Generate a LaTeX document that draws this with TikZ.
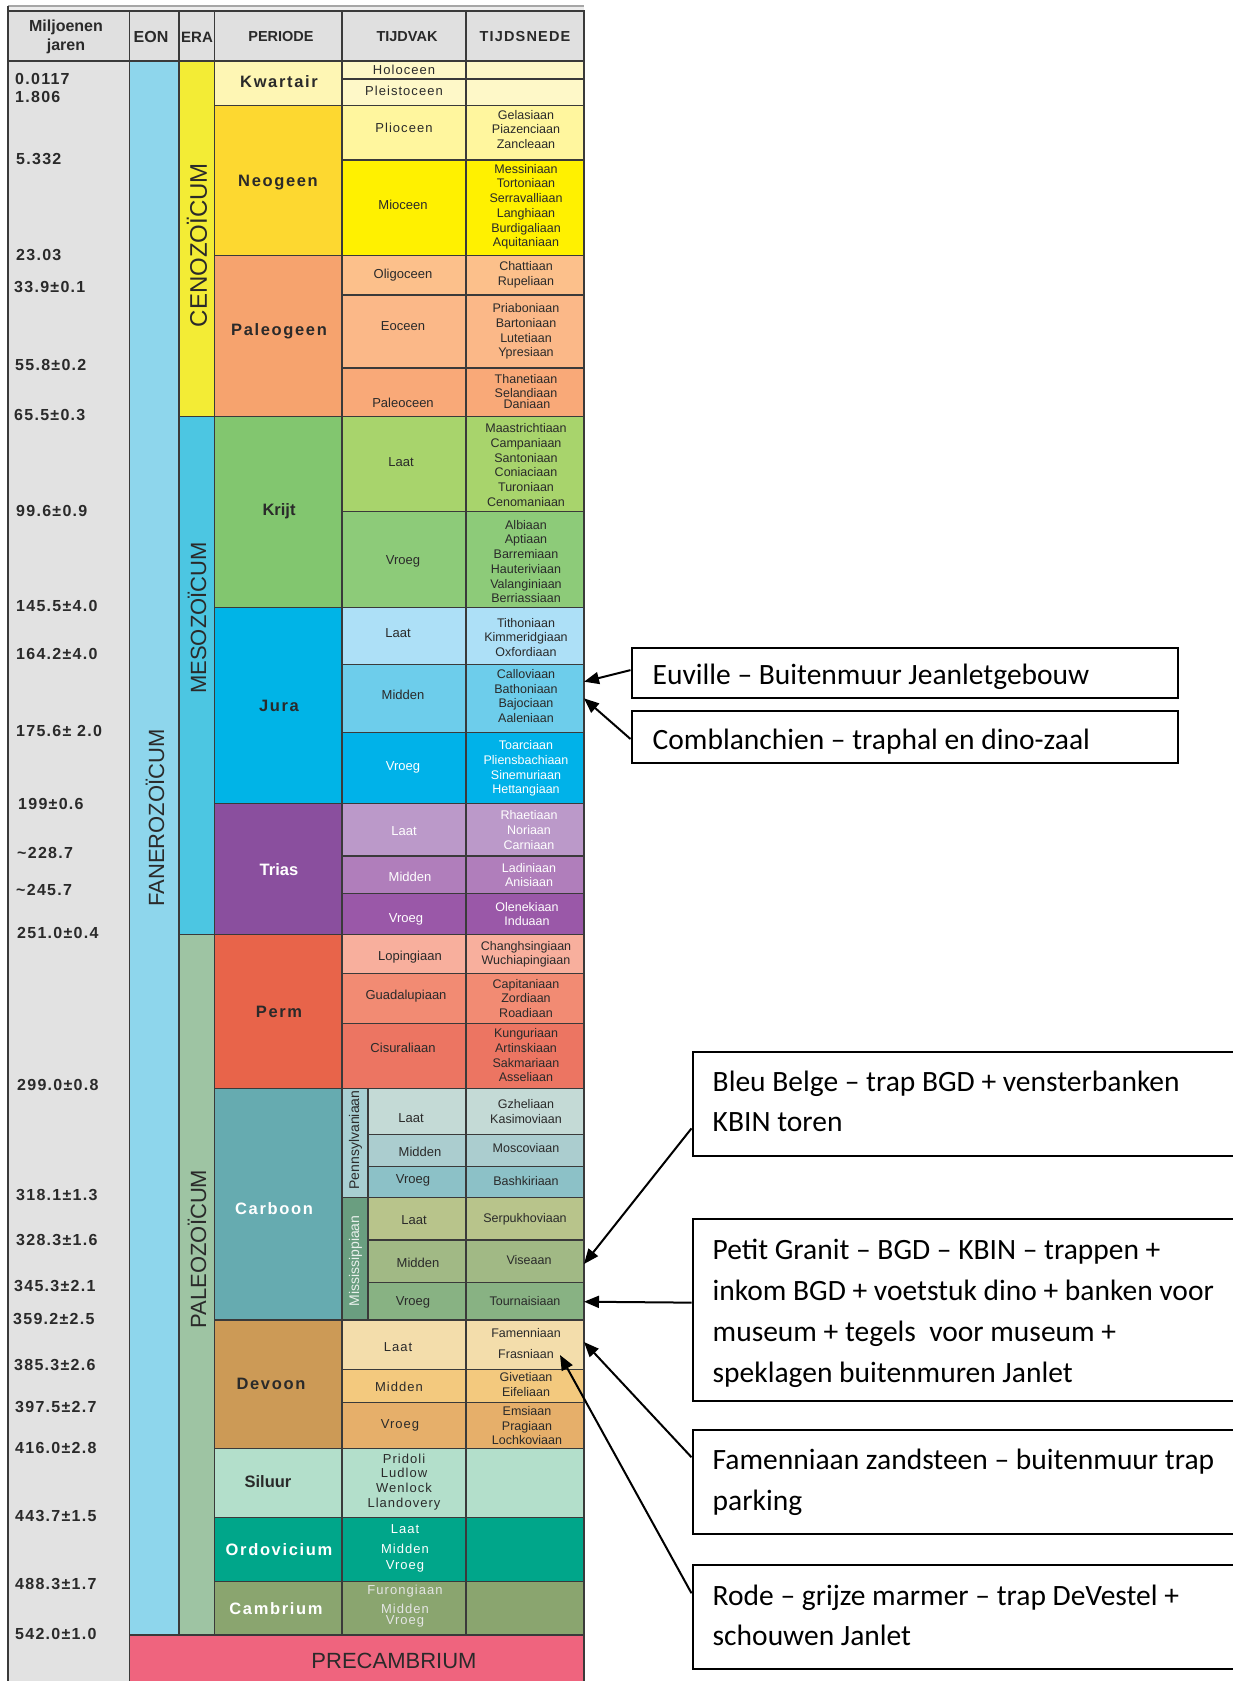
\documentclass[tikz,border=0pt]{standalone}
\usepackage{fontspec}
\setmainfont{Liberation Sans}
\newfontfamily\annf{Carlito}
\newfontfamily\lsp[LetterSpace=10]{Liberation Sans}
\newfontfamily\lsa[LetterSpace=8]{Liberation Sans}
\newfontfamily\lsv[LetterSpace=8]{Liberation Sans}
\usetikzlibrary{arrows.meta,calc}
\definecolor{linec}{HTML}{3A3A3A}
\definecolor{txt}{HTML}{2A2A2A}
\definecolor{hdr}{HTML}{E0E0E0}
\definecolor{agec}{HTML}{E2E2E2}
\definecolor{eonc}{HTML}{8ED6EC}
\definecolor{cenc}{HTML}{F3EC35}
\definecolor{mesc}{HTML}{4CC6E2}
\definecolor{palc}{HTML}{9EC4A3}
\definecolor{prec}{HTML}{EF647E}
\definecolor{kwa}{HTML}{FEF6B4}
\definecolor{kwb}{HTML}{FEF8C8}
\definecolor{neo}{HTML}{FDD830}
\definecolor{pli}{HTML}{FFF69E}
\definecolor{mio}{HTML}{FFF100}
\definecolor{pgn}{HTML}{F6A36E}
\definecolor{oli}{HTML}{FCC08B}
\definecolor{eoc}{HTML}{FBB888}
\definecolor{pal}{HTML}{F9A978}
\definecolor{kri}{HTML}{82C66F}
\definecolor{kril}{HTML}{A8D46C}
\definecolor{kriv}{HTML}{8DCB79}
\definecolor{jur}{HTML}{00B4E7}
\definecolor{jurl}{HTML}{ADE0F7}
\definecolor{jurm}{HTML}{6DCDEB}
\definecolor{jurv}{HTML}{00B2E9}
\definecolor{tri}{HTML}{8A4F9E}
\definecolor{tril}{HTML}{BB99C9}
\definecolor{trim}{HTML}{B07EBB}
\definecolor{triv}{HTML}{9A58A8}
\definecolor{per}{HTML}{E8644A}
\definecolor{perl}{HTML}{F8AF9D}
\definecolor{perg}{HTML}{F28B73}
\definecolor{perc}{HTML}{EC7562}
\definecolor{car}{HTML}{66ABB0}
\definecolor{pen}{HTML}{A8CFD2}
\definecolor{penl}{HTML}{C4DAD6}
\definecolor{penm}{HTML}{ABCDCF}
\definecolor{penv}{HTML}{8CC1C7}
\definecolor{mis}{HTML}{6A9E80}
\definecolor{misl}{HTML}{B8C48B}
\definecolor{mism}{HTML}{A1B985}
\definecolor{misv}{HTML}{88B283}
\definecolor{dev}{HTML}{CC9A56}
\definecolor{devl}{HTML}{F3DDAB}
\definecolor{devm}{HTML}{F3C97E}
\definecolor{devv}{HTML}{E6AF6A}
\definecolor{sil}{HTML}{B3DFCB}
\definecolor{ord}{HTML}{00A68A}
\definecolor{cam}{HTML}{8AA56F}
\newcommand\cel[5]{\filldraw[grid,fill=#5] (#1,#2) rectangle (#3,#4);}
\begin{document}
\begin{tikzpicture}[x=1pt,y=-1pt,
  grid/.style={draw=linec,line width=1.4pt},
  age/.style={font=\lsa\bfseries\fontsize{16}{18}\selectfont,anchor=west,inner sep=0,text=txt},
  hd/.style={font=\bfseries\fontsize{16}{18}\selectfont,text=txt,align=center,inner sep=0},
  hds/.style={font=\lsv\bfseries\fontsize{14.5}{16}\selectfont,text=txt,align=center,inner sep=0},
  pers/.style={font=\lsp\bfseries\fontsize{16.5}{18}\selectfont,text=txt,inner sep=0},
  pern/.style={font=\bfseries\fontsize{16.5}{18}\selectfont,text=txt,inner sep=0},
  tv/.style={font=\fontsize{13}{14.7}\selectfont,text=txt,align=center,inner sep=0},
  tvs/.style={font=\lsv\fontsize{13}{14.7}\selectfont,text=txt,align=center,inner sep=0},
  ts/.style={font=\fontsize{12.5}{14.7}\selectfont,text=txt,align=center,inner sep=0},
  era/.style={rotate=90,font=\fontsize{22}{24}\selectfont,text=txt,inner sep=0},
  sub/.style={rotate=90,font=\fontsize{14}{15}\selectfont,text=txt,inner sep=0},
  abox/.style={draw=black,line width=2pt,anchor=north west,inner sep=0},
  atext/.style={font=\annf\fontsize{29.5}{40}\selectfont,anchor=base west,inner sep=0,text=black},
  arr/.style={-{Triangle[length=15pt,width=12pt]},line width=2pt,draw=black}]
\useasboundingbox (0,0) rectangle (1233,1681);
\fill[white] (0,0) rectangle (1233,1681);
% ---------- top strip and header ----------
\fill[hdr!60] (8,6) rectangle (584,11);
\draw[draw=gray!70,line width=1.8pt] (8,6) -- (584,6);
\cel{8}{11}{129.5}{61}{hdr}
\cel{129.5}{11}{179}{61}{hdr}
\cel{179}{11}{214.5}{61}{hdr}
\cel{214.5}{11}{342}{61}{hdr}
\cel{342}{11}{466}{61}{hdr}
\cel{466}{11}{584}{61}{hdr}
\node[hd,font=\bfseries\fontsize{16}{18.5}\selectfont] (h1) at (66,37) {Miljoenen\\jaren};
\node[hd] (h2) at (151,37) {EON};
\node[hd,font=\bfseries\fontsize{15}{16}\selectfont] (h3) at (197,37) {ERA};
\node[hd,font=\bfseries\fontsize{14.5}{16}\selectfont] (h4) at (281,37) {PERIODE};
\node[hd,font=\bfseries\fontsize{14.5}{16}\selectfont] (h5) at (407,37) {TIJDVAK};
\node[hds] (h6) at (525,37) {TIJDSNEDE};
% ---------- age column ----------
\fill[agec] (8,61) rectangle (129.5,1681);
\draw[grid] (8,6) -- (8,1681);
\draw[grid] (8,61) -- (129.5,61);
% ---------- eon / era ----------
\cel{129.5}{61}{179}{1635}{eonc}
\cel{179}{61}{214.5}{416.7}{cenc}
\cel{179}{416.7}{214.5}{934.3}{mesc}
\cel{179}{934.3}{214.5}{1635}{palc}
\cel{129.5}{1635}{584}{1685}{prec}
\draw[grid] (129.5,61) -- (129.5,1681);
% ---------- periods ----------
\cel{214.5}{61}{342}{105.7}{kwa}
\cel{214.5}{105.7}{342}{255.7}{neo}
\cel{214.5}{255.7}{342}{416.7}{pgn}
\cel{214.5}{416.7}{342}{607.3}{kri}
\cel{214.5}{607.3}{342}{803.3}{jur}
\cel{214.5}{803.3}{342}{934.3}{tri}
\cel{214.5}{934.3}{342}{1088.3}{per}
\cel{214.5}{1088.3}{342}{1320}{car}
\cel{214.5}{1320}{342}{1448.5}{dev}
\cel{214.5}{1448.5}{342}{1517.7}{sil}
\cel{214.5}{1517.7}{342}{1581.7}{ord}
\cel{214.5}{1581.7}{342}{1635}{cam}
% ---------- tijdvak + tijdsnede rows ----------
\foreach \ya/\yb/\cc in {61/79/kwb,79/105.7/kwb,105.7/160/pli,160/255.7/mio,
  255.7/295/oli,295/368/eoc,368/416.7/pal,416.7/511.7/kril,511.7/607.3/kriv,
  607.3/664.3/jurl,664.3/732.3/jurm,732.3/803.3/jurv,803.3/856/tril,856/893.3/trim,
  893.3/934.3/triv,934.3/973.3/perl,973.3/1023.3/perg,1023.3/1088.3/perc,
  1320/1369.3/devl,1369.3/1402.7/devm,1402.7/1448.5/devv,1448.5/1517.7/sil,
  1517.7/1581.7/ord,1581.7/1635/cam}{
  \cel{342}{\ya}{466}{\yb}{\cc}
  \cel{466}{\ya}{584}{\yb}{\cc}
}
\cel{342}{1088.3}{368}{1197.7}{pen}
\cel{342}{1197.7}{368}{1320}{mis}
\foreach \ya/\yb/\cc in {1088.3/1134.3/penl,1134.3/1166.7/penm,1166.7/1197.7/penv,
  1197.7/1240/misl,1240/1282.3/mism,1282.3/1320/misv}{
  \cel{368}{\ya}{466}{\yb}{\cc}
  \cel{466}{\ya}{584}{\yb}{\cc}
}
% ---------- ages ----------
\node[age] (a1) at (15,79.3) {0.0117};
\node[age] (a2) at (15,97.3) {1.806};
\node[age] (a3) at (16,159.3) {5.332};
\node[age] (a4) at (16,255) {23.03};
\node[age] (a5) at (14,286.7) {33.9±0.1};
\node[age] (a6) at (15,365) {55.8±0.2};
\node[age] (a7) at (14,415) {65.5±0.3};
\node[age] (a8) at (16,511) {99.6±0.9};
\node[age] (a9) at (16,606) {145.5±4.0};
\node[age] (a10) at (16,654.3) {164.2±4.0};
\node[age] (a11) at (16,731) {175.6± 2.0};
\node[age] (a12) at (18,804.3) {199±0.6};
\node[age] (a13) at (17,853.3) {\textasciitilde228.7};
\node[age] (a14) at (16,890) {\textasciitilde245.7};
\node[age] (a15) at (17,932.7) {251.0±0.4};
\node[age] (a16) at (17,1085) {299.0±0.8};
\node[age] (a17) at (16,1195) {318.1±1.3};
\node[age] (a18) at (16,1240) {328.3±1.6};
\node[age] (a19) at (14,1285.7) {345.3±2.1};
\node[age] (a20) at (13,1319) {359.2±2.5};
\node[age] (a21) at (14,1365) {385.3±2.6};
\node[age] (a22) at (15,1406.7) {397.5±2.7};
\node[age] (a23) at (15,1448.3) {416.0±2.8};
\node[age] (a24) at (15,1516) {443.7±1.5};
\node[age] (a25) at (15,1584.3) {488.3±1.7};
\node[age] (a26) at (15,1634.3) {542.0±1.0};
% ---------- eon / era labels ----------
\node[era] (e0) at (155,818) {FANEROZOÏCUM};
\node[era,font=\fontsize{24}{26}\selectfont] (e1) at (197,245) {CENOZOÏCUM};
\node[era] (e2) at (197,618) {MESOZOÏCUM};
\node[era] (e3) at (197,1249) {PALEOZOÏCUM};
\node[font=\fontsize{22}{24}\selectfont,text=txt,inner sep=0] (e4) at (394,1661) {PRECAMBRIUM};
% ---------- period labels ----------
\node[pers] (p1) at (279,81.7) {Kwartair};
\node[pers] (p2) at (278,182.7) {Neogeen};
\node[pers] (p3) at (279,331) {Paleogeen};
\node[pern] (p4) at (279,511) {Krijt};
\node[pers] (p5) at (279,706) {Jura};
\node[pern,text=white] (p6) at (279,869.3) {Trias};
\node[pers] (p7) at (279,1012.3) {Perm};
\node[pers,text=white] (p8) at (274,1208.3) {Carboon};
\node[pers] (p9) at (271,1384.3) {Devoon};
\node[pern] (p10) at (268,1481.7) {Siluur};
\node[pers,text=white] (p11) at (279,1549.3) {Ordovicium};
\node[pers,text=white] (p12) at (276,1608.3) {Cambrium};
% ---------- tijdvak ----------
\node[tvs] (v1) at (404,70) {Holoceen};
\node[tvs] (v2) at (404,90.5) {Pleistoceen};
\node[tvs] (v3) at (404,128.3) {Plioceen};
\node[tv] (v4) at (403,205) {Mioceen};
\node[tv] (v5) at (403,275) {Oligoceen};
\node[tv] (v6) at (403,326) {Eoceen};
\node[tv] (v7) at (403,403.3) {Paleoceen};
\node[tv] (v8) at (401,461.7) {Laat};
\node[tv] (v9) at (403,561) {Vroeg};
\node[tv] (v10) at (398,633.3) {Laat};
\node[tv] (v11) at (403,695) {Midden};
\node[tv,text=white] (v12) at (403,767.7) {Vroeg};
\node[tv,text=white] (v13) at (404,830.7) {Laat};
\node[tv,text=white] (v14) at (410,876.7) {Midden};
\node[tv,text=white] (v15) at (406,919.3) {Vroeg};
\node[tv] (v16) at (410,956.7) {Lopingiaan};
\node[tv] (v17) at (406,996) {Guadalupiaan};
\node[tv] (v18) at (403,1048.3) {Cisuraliaan};
\node[tv] (v19) at (411,1117.7) {Laat};
\node[tv] (v20) at (420,1151.7) {Midden};
\node[tv] (v21) at (413,1180) {Vroeg};
\node[tv] (v22) at (414,1220) {Laat};
\node[tv] (v23) at (418,1262.7) {Midden};
\node[tv] (v24) at (413,1302.7) {Vroeg};
\node[tvs] (v25) at (398,1347.3) {Laat};
\node[tvs] (v26) at (399,1386.7) {Midden};
\node[tvs] (v27) at (400,1425.7) {Vroeg};
\node[tvs] (v28) at (404,1481.7) {Pridoli\\Ludlow\\Wenlock\\Llandovery};
\node[tvs,text=white] (v29) at (405,1529.3) {Laat};
\node[tvs,text=white] (v30) at (405,1548.7) {Midden};
\node[tvs,text=white] (v31) at (405,1566.7) {Vroeg};
\node[tvs,text=white!90!black] (v32) at (405,1591) {Furongiaan};
\node[tvs,text=white!90!black] (v33) at (405,1609.3) {Midden};
\node[tvs,text=white!90!black] (v34) at (405,1621.7) {Vroeg};
\node[sub] (v35) at (355.5,1140) {Pennsylvaniaan};
\node[sub,text=white!85!mis] (v36) at (355.5,1261) {Mississippiaan};
% ---------- tijdsnede ----------
\node[ts] (s1) at (526,129.5) {Gelasiaan\\Piazenciaan\\Zancleaan};
\node[ts] (s2) at (526,206.8) {Messiniaan\\Tortoniaan\\Serravalliaan\\Langhiaan\\Burdigaliaan\\Aquitaniaan};
\node[ts] (s3) at (526,274.8) {Chattiaan\\Rupeliaan};
\node[ts] (s4) at (526,331.5) {Priaboniaan\\Bartoniaan\\Lutetiaan\\Ypresiaan};
\node[ts] (s5) at (526,379) {Thanetiaan};
\node[ts] (s6) at (526,393) {Selandiaan};
\node[ts] (s7) at (527,404.5) {Daniaan};
\node[ts] (s8) at (526,465) {Maastrichtiaan\\Campaniaan\\Santoniaan\\Coniaciaan\\Turoniaan\\Cenomaniaan};
\node[ts] (s9) at (526,561.5) {Albiaan\\Aptiaan\\Barremiaan\\Hauteriviaan\\Valanginiaan\\Berriassiaan};
\node[ts] (s10) at (526,637.5) {Tithoniaan\\Kimmeridgiaan\\Oxfordiaan};
\node[ts] (s11) at (526,696) {Calloviaan\\Bathoniaan\\Bajociaan\\Aaleniaan};
\node[ts,text=white] (s12) at (526,768.7) {Toarciaan\\Pliensbachiaan\\Sinemuriaan\\Hettangiaan};
\node[ts,text=white] (s13) at (529,830) {Rhaetiaan\\Noriaan\\Carniaan};
\node[ts,text=white] (s14) at (529,875) {Ladiniaan\\Anisiaan};
\node[ts,text=white] (s15) at (527,914) {Olenekiaan\\Induaan};
\node[ts] (s16) at (526,954.3) {Changhsingiaan\\Wuchiapingiaan};
\node[ts] (s17) at (526,998.3) {Capitaniaan\\Zordiaan\\Roadiaan};
\node[ts] (s18) at (526,1055.3) {Kunguriaan\\Artinskiaan\\Sakmariaan\\Asseliaan};
\node[ts] (s19) at (526,1111.8) {Gzheliaan\\Kasimoviaan};
\node[ts] (s20) at (526,1148.3) {Moscoviaan};
\node[ts] (s21) at (526,1180.7) {Bashkiriaan};
\node[ts] (s22) at (525,1219.3) {Serpukhoviaan};
\node[ts] (s23) at (529,1260) {Viseaan};
\node[ts] (s24) at (525,1301) {Tournaisiaan};
\node[ts] (s25) at (526,1333.3) {Famenniaan};
\node[ts] (s26) at (526,1354.3) {Frasniaan};
\node[ts] (s27) at (526,1384.7) {Givetiaan\\Eifeliaan};
\node[ts] (s28) at (527,1425.7) {Emsiaan\\Pragiaan\\Lochkoviaan};
% ---------- annotation boxes ----------
\node[abox,minimum width=546,minimum height=50.5] (b1) at (630.5,646.5) {};
\node[abox,minimum width=546,minimum height=51.7] (b2) at (630.5,710) {};
\node[abox,minimum width=560,minimum height=104] (b3) at (691.5,1051) {};
\node[abox,minimum width=560,minimum height=182] (b4) at (691.5,1218) {};
\node[abox,minimum width=560,minimum height=103.4] (b5) at (691.5,1429.3) {};
\node[abox,minimum width=560,minimum height=104] (b6) at (691.5,1564.3) {};
\node[atext] (b1t) at (652.5,684.5) {Euville – Buitenmuur Jeanletgebouw};
\node[atext] (b2t) at (652.5,749) {Comblanchien – traphal en dino-zaal};
\node[atext] (b3t) at (712.5,1091) {Bleu Belge – trap BGD + vensterbanken};
\node[atext] (b3u) at (712.5,1131.5) {KBIN toren};
\node[atext] (b4t) at (712.5,1259) {Petit Granit – BGD – KBIN – trappen +};
\node[atext] (b4u) at (712.5,1300) {inkom BGD + voetstuk dino + banken voor};
\node[atext] (b4v) at (712.5,1341.5) {museum + tegels\ \ voor museum +};
\node[atext] (b4w) at (712.5,1382.5) {speklagen buitenmuren Janlet};
\node[atext] (b5t) at (712.5,1469.5) {Famenniaan zandsteen – buitenmuur trap};
\node[atext] (b5u) at (712.5,1510) {parking};
\node[atext] (b6t) at (712.5,1605) {Rode – grijze marmer – trap DeVestel +};
\node[atext] (b6u) at (712.5,1645.5) {schouwen Janlet};
% ---------- arrows ----------
\coordinate (t1) at (584,681.7);
\coordinate (t2) at (584,698.3);
\coordinate (t3) at (584,1264);
\coordinate (t4) at (584,1301.7);
\coordinate (t5) at (584,1342);
\coordinate (t6) at (560,1355);
\draw[arr] ($(b1.north west)!0.45!(b1.south west)$) -- (t1);
\draw[arr] ($(b2.north west)!0.54!(b2.south west)$) -- (t2);
\draw[arr] ($(b3.north west)!0.73!(b3.south west)$) -- (t3);
\draw[arr] ($(b4.north west)!0.46!(b4.south west)$) -- (t4);
\draw[arr] ($(b5.north west)!0.265!(b5.south west)$) -- (t5);
\draw[arr] ($(b6.north west)!0.273!(b6.south west)$) -- (t6);
\end{tikzpicture}
\end{document}
